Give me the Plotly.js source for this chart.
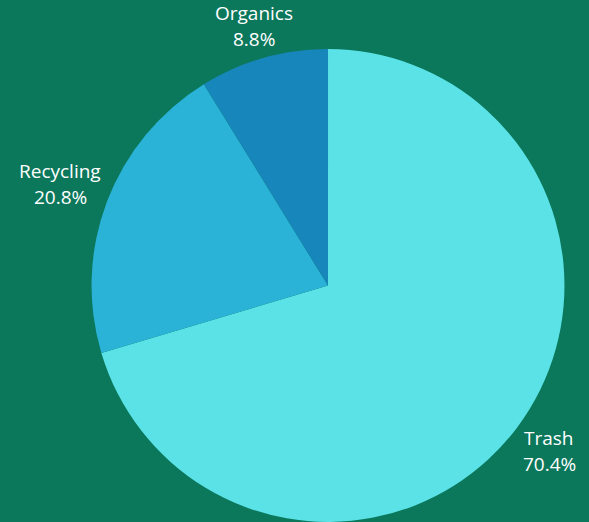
<!DOCTYPE html>
<html>
<head>
<meta charset="utf-8">
<script src="https://cdn.plot.ly/plotly-3.0.1.min.js"></script>
<style>html,body{margin:0;padding:0;background:#0b775b;}#chart{width:589px;height:522px;}</style>
</head>
<body>
<div id="chart"></div>
<script>
const categories = ["Trash", "Recycling", "Organics"];
const values = [70.4, 20.8, 8.8];
const colors = ["#5ae2e6", "#2ab3d6", "#1787bb"];

const W = 589, H = 522;
const dom = {x: [0.1545, 0.9593], y: [-0.002, 0.906]};
const fontSize = 19, fontFam = "Open Sans, sans-serif";

// pie geometry in pixels (same rule plotly uses: radius = half the smaller domain side)
const dw = (dom.x[1] - dom.x[0]) * W, dh = (dom.y[1] - dom.y[0]) * H;
const R = Math.min(dw, dh) / 2;
const CX = (dom.x[0] + dom.x[1]) / 2 * W;
const CY = H - (dom.y[0] + dom.y[1]) / 2 * H;

const ctx = document.createElement("canvas").getContext("2d");
ctx.font = fontSize + "px 'Open Sans'";

const total = values.reduce((a, b) => a + b, 0);
const annotations = [];
let cum = 0;
values.forEach((v, i) => {
  const mid = (cum + v / 2) / total * 2 * Math.PI;
  cum += v;
  const pct = (v / total * 100).toFixed(1) + "%";
  const sx = Math.sin(mid), sy = -Math.cos(mid);
  const w = Math.max(ctx.measureText(categories[i]).width, ctx.measureText(pct).width);
  const h = 52;
  const ext = Math.min(Math.abs(sx) > 1e-6 ? (w / 2) / Math.abs(sx) : 1e9,
                       Math.abs(sy) > 1e-6 ? (h / 2) / Math.abs(sy) : 1e9);
  const d = R + 6 + ext;
  const px = CX + d * sx, py = CY + d * sy;
  [[categories[i], py - 13], [pct, py + 13]].forEach(([t, yy]) => {
    annotations.push({
      text: t, x: px / W, y: 1 - yy / H, xref: "paper", yref: "paper",
      xanchor: "center", yanchor: "middle", showarrow: false,
      font: {color: "#ffffff", size: fontSize, family: fontFam}
    });
  });
});

Plotly.newPlot("chart", [{
  type: "pie",
  labels: categories,
  values: values,
  sort: false,
  direction: "clockwise",
  rotation: 0,
  marker: {colors: colors, line: {width: 0}},
  textinfo: "none",
  domain: dom,
  hoverinfo: "none"
}], {
  width: W, height: H,
  margin: {l: 0, r: 0, t: 0, b: 0},
  paper_bgcolor: "#0b775b",
  plot_bgcolor: "#0b775b",
  showlegend: false,
  annotations: annotations
}, {displayModeBar: false, staticPlot: true});
</script>
</body>
</html>
